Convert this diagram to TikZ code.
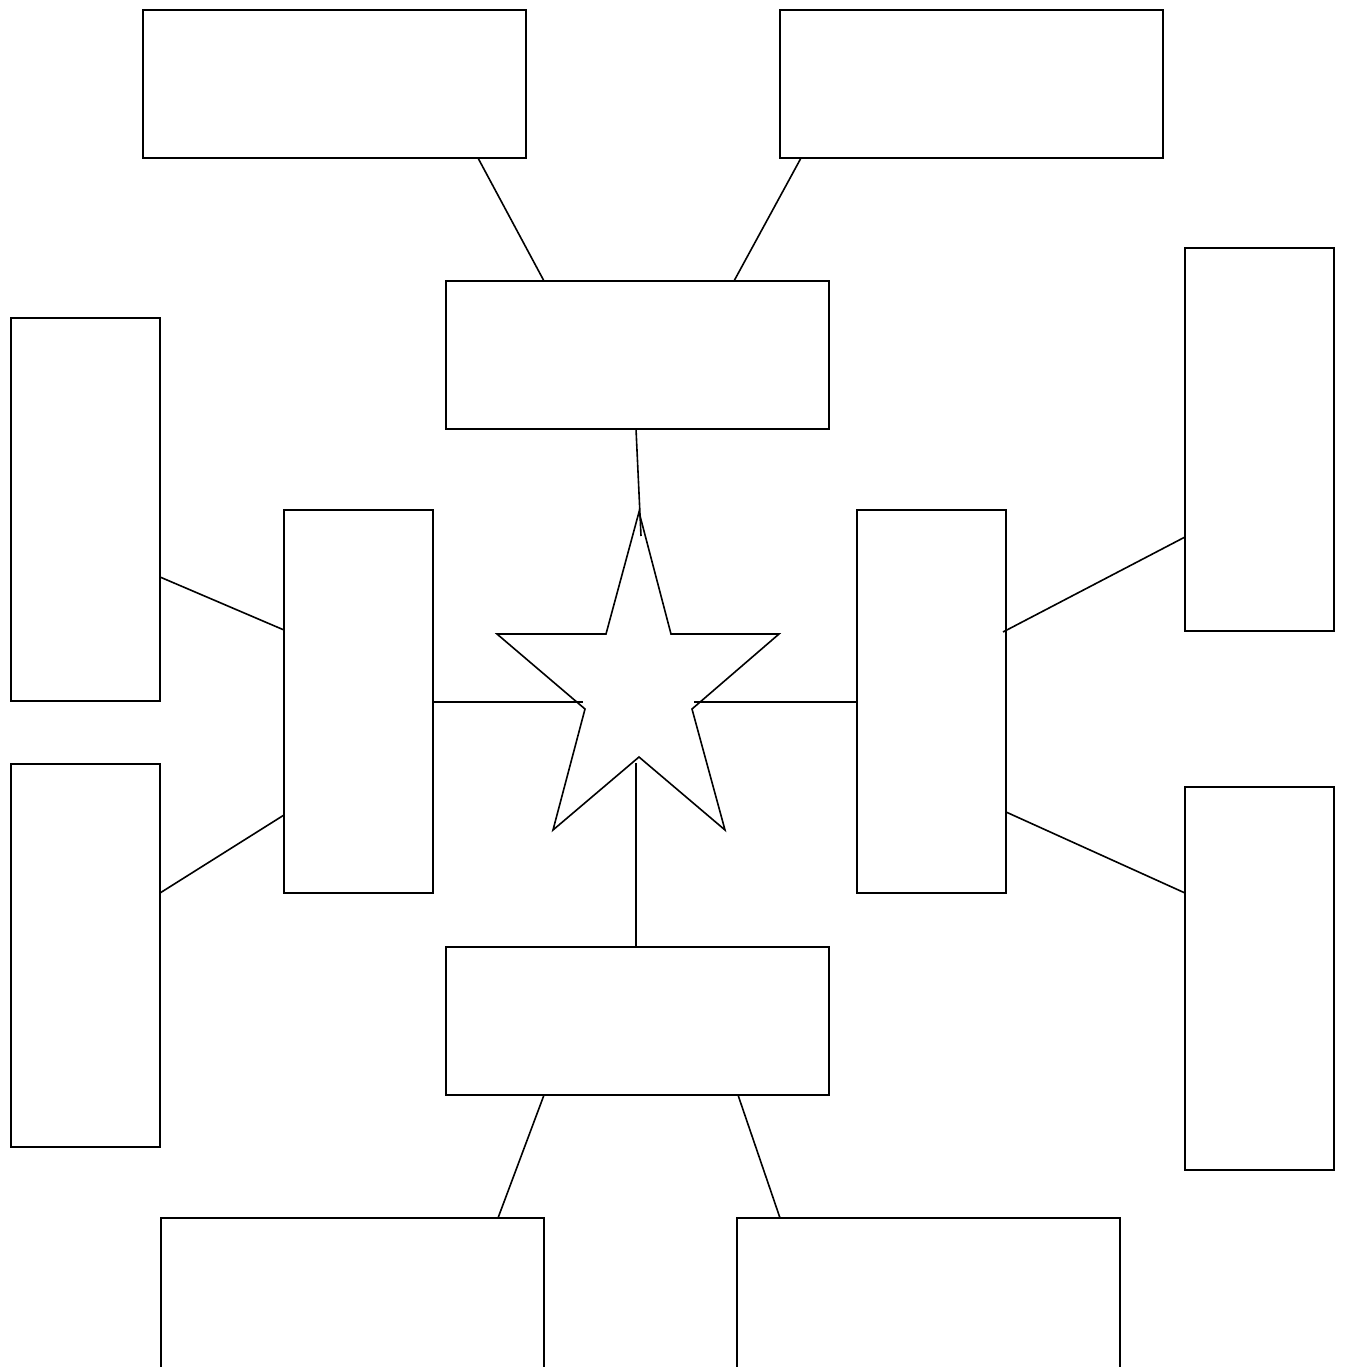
\documentclass[tikz,border=0pt]{standalone}
\usetikzlibrary{calc}
\begin{document}
\begin{tikzpicture}[x=1pt,y=-1pt,line width=1.6pt,
  wbox/.style={draw,rectangle,inner sep=0pt,outer sep=0pt,anchor=north west,minimum width=383pt,minimum height=148pt},
  tbox/.style={draw,rectangle,inner sep=0pt,outer sep=0pt,anchor=north west,minimum width=149pt,minimum height=383pt},
  link/.style={draw,line width=1.6pt}]
\useasboundingbox (0,0) rectangle (1344,1367);
\clip (0,0) rectangle (1344,1367);
% wide boxes
\node[wbox] (tl) at (143,10) {};
\node[wbox] (tr) at (780,10) {};
\node[wbox] (tc) at (446,281) {};
\node[wbox] (bc) at (446,947) {};
\node[wbox,minimum height=151pt] (bl) at (161,1218) {};
\node[wbox,minimum height=151pt] (br) at (737,1218) {};
% tall boxes
\node[tbox] (lt) at (11,318) {};
\node[tbox] (lb) at (11,764) {};
\node[tbox] (lm) at (284,510) {};
\node[tbox] (rm) at (857,510) {};
\node[tbox] (rt) at (1185,248) {};
\node[tbox] (rb) at (1185,787) {};
% star
\draw (639,512) -- (671,634) -- (779,634) -- (692,709) -- (725,830) -- (639,757)
  -- (553,830) -- (585,709) -- (497,634) -- (606,634) -- cycle;
\coordinate (stop) at (641,536);
\coordinate (sleft) at (583,702);
\coordinate (sright) at (694,702);
\coordinate (sbot) at (636,763);
% connectors
\draw[link] (tl.south west -| 478,0) -- (tc.north west -| 544,0);
\draw[link] (tr.south west -| 801,0) -- (tc.north west -| 734,0);
\draw[link] (tc.south west -| 636,0) -- (stop);
\draw[link] (lm.north east |- 0,702) -- (sleft);
\draw[link] (rm.north west |- 0,702) -- (sright);
\draw[link] (sbot) -- (bc.north west -| 636,0);
\draw[link] (lt.north east |- 0,577) -- (lm.north west |- 0,630);
\draw[link] (lb.north east |- 0,893) -- (lm.north west |- 0,815);
\draw[link] ($(rm.north east |- 0,632)+(-3,0)$) -- (rt.north west |- 0,537);
\draw[link] (rm.north east |- 0,812) -- (rb.north west |- 0,893);
\draw[link] (bc.south west -| 544,0) -- (bl.north west -| 498,0);
\draw[link] (bc.south west -| 738,0) -- (br.north west -| 780,0);
\end{tikzpicture}
\end{document}
